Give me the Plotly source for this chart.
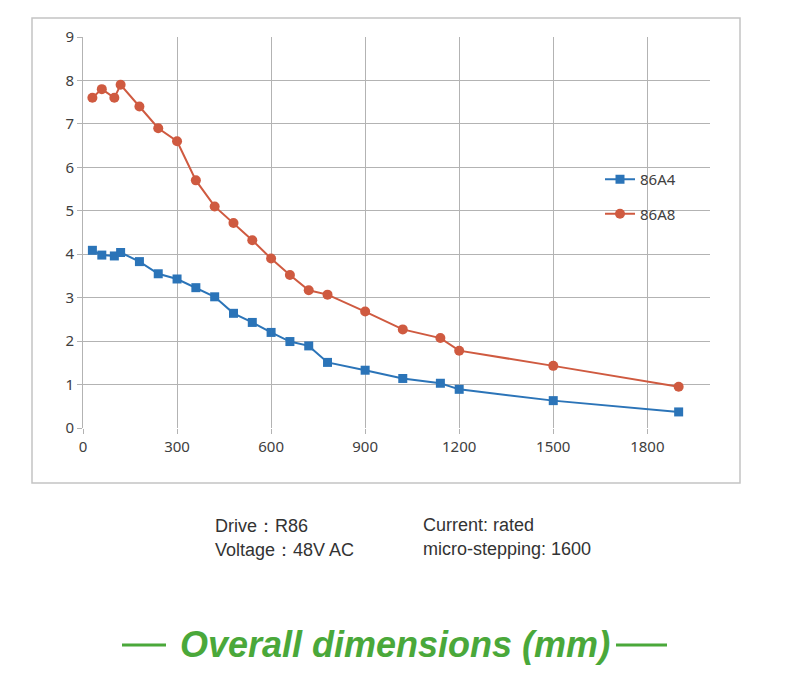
import plotly.graph_objects as go

speed = [30, 60, 100, 120, 180, 240, 300, 360, 420, 480, 540, 600, 660, 720, 780, 900, 1020, 1140, 1200, 1500, 1900]
torque_86A4 = [4.09, 3.98, 3.96, 4.04, 3.83, 3.55, 3.43, 3.23, 3.02, 2.64, 2.43, 2.2, 1.99, 1.89, 1.51, 1.33, 1.14, 1.03, 0.89, 0.63, 0.37]
torque_86A8 = [7.6, 7.8, 7.6, 7.9, 7.4, 6.9, 6.6, 5.7, 5.1, 4.72, 4.32, 3.9, 3.52, 3.17, 3.07, 2.68, 2.27, 2.07, 1.78, 1.43, 0.95]
x_ticks = [0, 300, 600, 900, 1200, 1500, 1800]
y_ticks = [0, 1, 2, 3, 4, 5, 6, 7, 8, 9]

BLUE = "#2b74b8"
RED = "#cf5a40"
GREEN = "#4aa83a"

fig = go.Figure()
fig.add_trace(go.Scatter(x=speed, y=torque_86A4, name="86A4", mode="lines+markers",
                         legendgroup="a", line=dict(color=BLUE, width=2),
                         marker=dict(symbol="square", size=9, color=BLUE)))
fig.add_trace(go.Scatter(x=speed, y=torque_86A8, name="86A8", mode="lines+markers",
                         legendgroup="b", line=dict(color=RED, width=2),
                         marker=dict(symbol="circle", size=10, color=RED)))

OFF = 8  # page body margin
L, R, T, B = 83 - OFF, 710 - OFF, 37 - OFF, 428 - OFF
W, H = 790, 674
pw, ph = R - L, B - T

def px(x):
    return (x - OFF - L) / pw

def py(y):
    return (B - (y - OFF)) / ph

GRID = "#b3b3b3"
tickfont = dict(family="Noto Sans, DejaVu Sans, sans-serif", size=15, color="#404040")
fig.update_xaxes(range=[0, 2000], tickvals=x_ticks, showgrid=True, gridcolor=GRID,
                 gridwidth=1, zeroline=False, showline=False, ticks="outside", ticklen=5,
                 tickcolor=GRID, tickfont=tickfont)
fig.update_yaxes(range=[0, 9], tickvals=y_ticks, showgrid=True, gridcolor=GRID,
                 gridwidth=1, zeroline=False, showline=True, linecolor=GRID,
                 ticks="outside", ticklen=5, tickcolor=GRID, tickfont=tickfont)

shapes = [
    dict(type="rect", xref="paper", yref="paper", x0=px(32), x1=px(740), y0=py(483), y1=py(18),
         line=dict(color="#c4c4c4", width=1.5)),
    dict(type="line", xref="paper", yref="paper", x0=px(122), x1=px(166), y0=py(645), y1=py(645),
         line=dict(color=GREEN, width=3)),
    dict(type="line", xref="paper", yref="paper", x0=px(616), x1=px(667), y0=py(645), y1=py(645),
         line=dict(color=GREEN, width=3)),
]

txtfont = dict(family="Liberation Sans, Arial, sans-serif", size=18, color="#333333")
annotations = [
    dict(text="Drive：R86", x=px(213), y=py(526), xref="paper", yref="paper", xanchor="left",
         yanchor="middle", showarrow=False, font=txtfont),
    dict(text="Voltage：48V AC", x=px(213), y=py(550), xref="paper", yref="paper", xanchor="left",
         yanchor="middle", showarrow=False, font=txtfont),
    dict(text="Current: rated", x=px(421), y=py(525), xref="paper", yref="paper", xanchor="left",
         yanchor="middle", showarrow=False, font=txtfont),
    dict(text="micro-stepping: 1600", x=px(421), y=py(549), xref="paper", yref="paper", xanchor="left",
         yanchor="middle", showarrow=False, font=txtfont),
    dict(text="<b><i>Overall dimensions (mm)</i></b>", x=px(395), y=py(644), xref="paper", yref="paper",
         xanchor="center", yanchor="middle", showarrow=False,
         font=dict(family="Liberation Sans, Arial, sans-serif", size=36, color=GREEN)),
]

fig.update_layout(
    width=W, height=H,
    margin=dict(l=L, r=W - R, t=T, b=H - B, pad=0),
    paper_bgcolor="white", plot_bgcolor="white",
    showlegend=True,
    legend=dict(x=px(600), y=py(163), xanchor="left", yanchor="top", bgcolor="rgba(0,0,0,0)",
                font=dict(family="Noto Sans, DejaVu Sans, sans-serif", size=15, color="#404040"),
                tracegroupgap=12, itemwidth=30),
    shapes=shapes,
    annotations=annotations,
)

fig.write_html("out.html")
